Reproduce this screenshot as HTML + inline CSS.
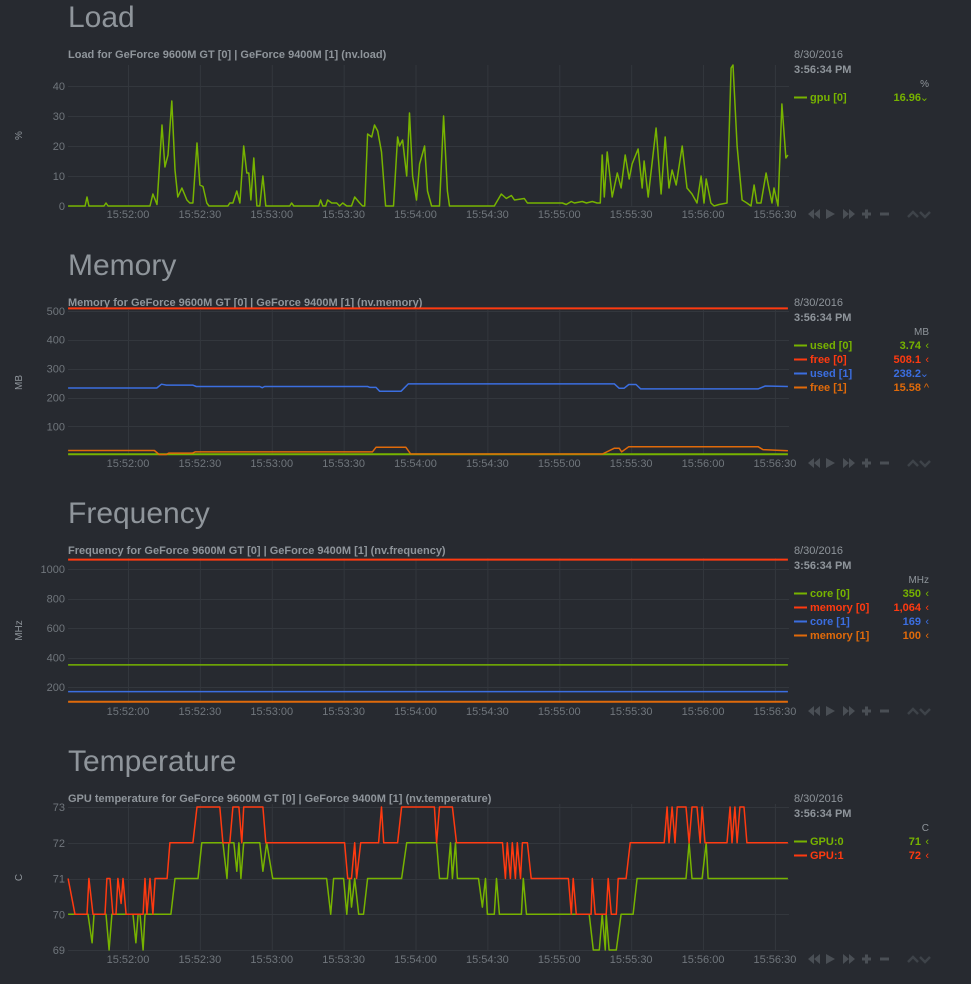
<!DOCTYPE html>
<html><head><meta charset="utf-8">
<style>
html,body{margin:0;padding:0;background:#272a30;}
body{width:971px;height:984px;overflow:hidden;font-family:"Liberation Sans",sans-serif;}
svg{display:block}
</style></head>
<body>
<svg id="page" width="971" height="984" xmlns="http://www.w3.org/2000/svg" font-family="Liberation Sans, sans-serif"></svg>
<script>
// ---- data (times are seconds relative to 15:52:00) ----
const xTickLabels = ["15:52:00","15:52:30","15:53:00","15:53:30","15:54:00","15:54:30","15:55:00","15:55:30","15:56:00","15:56:30"];
const xTickTimes = [0,30,60,90,120,150,180,210,240,270];

const loadTimes = [-25,-17.9,-17.1,-16.3,-10,-9.2,-8.3,9.2,10.4,12.1,14.2,15.4,16.7,18.3,19.6,20.8,22.5,24.6,25.8,27.1,28.8,30,31.3,32.9,33.8,41.7,42.5,43.8,45.4,46.7,48.3,49.6,50.4,51.3,52.5,53.8,55,56.3,57.5,67.5,68.3,69.2,79.6,80.4,81.3,82.5,83.3,85,87.1,88.3,89.6,91.3,93.3,94.6,96.7,97.9,98.8,100,101.7,102.9,104.2,105.8,107.5,110.8,112.5,113.3,114.6,116.3,117.5,118.8,120.4,121.7,123.8,125,126.7,130,131.7,133.3,134.2,152.9,155.8,157.9,160,161.3,165.4,166.7,181.3,182.9,185,186.3,189.6,191.3,193.8,195.8,197.1,197.9,198.8,200,202.1,204.2,205.8,207.5,209.2,210.4,212.9,214.6,215.4,217.1,220.4,222.5,224.2,225.8,227.1,228.8,231.3,233.3,235.4,237.5,239.2,240.4,241.3,243.3,244.6,246.7,250,251.7,252.5,254.2,256.3,258.3,260,261.3,262.5,264.2,266.3,267.5,268.8,269.6,271.3,272.9,274.6,275.4];
const loadGpu0 = [0,0,3,0,0,1,0,0,4,0.5,27,13,17,35,12,3,6,2,1,1,21,7,6.5,1,0,0,1,1,5,1,20,11,11,2,16,0,0,10,0,0,1,0,0,2,0,0,2,1,1,0,1,0,0,3,1,0,0,24,23,27,25,18,0,0,23,20,22,10,31,10,2,14,20,5,0,0,30,5,0,0,4,2.5,3.5,2,2.5,1,1,0.5,1.5,1,1.5,1,1.5,1,1,17,3,18,3,11,6,17,9,14,19,6,15,3,26,4,23,6,12,7,20,6,4,1,10,1,9,1,0,0.5,1,46,47,20,2,1,0,7,1,1,11,6,1,6,0,34,16,17];

const memUsed0Times = [-25,275.4];
const memUsed0 = [3.74,3.74];
const memFree0Times = [-25,275.4];
const memFree0 = [508.1,508.1];
const memUsed1Times = [-25,12,14,16,27,28.5,55,56,57,100,101,103.5,105,114,117,203,205,207,209,212,214,263,266,275.4];
const memUsed1 = [233,233,246,243,243,238,238,234,238,238,235,235,222,222,247,247,232,232,245,245,230,230,240,238];
const memFree1Times = [-25,11,13,16,17,27,28,102,103.5,116,118,198,203,205,206,209,263,265,275.4];
const memFree1 = [17,17,3,3,8,8,12,12,28,28,5,5,25,25,12,30,30,20,16];

const freqTimes = [-25,275.4];
const freqCore0 = [350,350];
const freqMem0 = [1064,1064];
const freqCore1 = [169,169];
const freqMem1 = [100,100];

const tempRedTimes = [-25,-22.1,-17.1,-16.3,-14.6,-9.6,-8.8,-7.5,-6.3,-5,-4.2,-2.9,-2.1,-0.8,6.3,7.1,7.9,9.2,10.4,11.3,16.3,17.5,27.1,28.8,38.3,39.6,42.5,43.8,46.3,47.5,48.3,56.3,57.5,90.4,91.7,93.3,94.6,95.4,97.1,104.6,105.8,106.7,112.5,114.2,127.9,128.8,130,135.4,137.1,156.3,157.5,158.3,159.6,160.4,161.7,162.5,163.8,164.6,166.7,168.3,183.8,185,185.8,187.1,193.3,193.8,195,199.6,200.4,201.7,203.8,204.6,207.9,209.6,223.8,225,225.8,227.1,228.3,229.2,232.9,234.2,235.4,237.5,238.8,239.6,240.8,250,251.3,252.1,253.3,254.2,255.4,257.1,258.3,275.4];
const tempGpu1 = [71,70,70,71,70,70,71,71,70,70,71,70.3,71,70,70,71,70,71,70,71,71,72,72,73,73,72,72,73,73,72,73,73,72,72,71,71,72,71,72,72,73,72,72,73,73,72,73,73,72,72,71,72,71,72,71,72,71,72,72,71,71,70,71,70,70,71,70,70,71,70,70,71,71,72,72,73,72,73,72,73,73,72,73,73,72,73,72,72,73,72,73,72,73,73,72,72];
const tempGreenTimes = [-25,-16.7,-15,-14.2,-9.2,-7.9,-6.7,2.1,3.3,4.2,5,6.3,7.1,17.9,19.6,29.2,30.8,39.6,41.3,42.1,44.2,45.4,46.3,47.1,48.3,55,56.3,57.9,60.4,82.9,84.6,85.8,90,91.3,92.5,93.3,94.6,96.3,98.3,100,114.2,116.3,128.8,130,133.3,134.6,135.4,136.7,137.5,146.3,147.9,149.2,150,152.9,153.8,155,164.2,165,166.3,192.5,194.2,196.7,197.9,199.2,199.6,200.8,203.8,205.8,210.8,212.5,232.9,234.2,235.4,239.6,241.3,242.1,275.4];
const tempGpu0 = [70,70,69.2,70,70,69,70,70,69.2,70,70,69,70,70,71,71,72,72,71,72,72,71.2,72,71,72,72,71.2,72,71,71,70,71,71,70,71,70.2,71,70,70,71,71,72,72,71,71,72,71,72,71,71,70.2,71,70,70,71,70,70,71,70,70,69,69,70,69,70,69,69,70,70,71,71,72,71,71,72,71,71];

// ---- rendering ----
const NS = "http://www.w3.org/2000/svg";
const svg = document.getElementById("page");
const X0 = 128, PXS = 2.396, PL = 68, PR = 789;
function xOf(t){ return X0 + t*PXS; }
function mk(tag, attrs, parent){
  const e = document.createElementNS(NS, tag);
  for (const k in attrs) e.setAttribute(k, attrs[k]);
  (parent||svg).appendChild(e);
  return e;
}
function txt(s, attrs, parent){ const e = mk("text", attrs, parent); e.textContent = s; return e; }

const C = {green:"#77b300", red:"#ff3a10", blue:"#3b6ee0", orange:"#e06a0a"};

function chart(cfg){
  const g = mk("g", {});
  
  
  const oy = cfg.oy;
  const h = txt(cfg.heading, {x:68, y:oy+27, "font-size":30, fill:"#8f959b"}, g);
  
  
  const t = txt(cfg.title, {x:68, y:oy+58, "font-size":11, "font-weight":"bold", fill:"#8f959b"}, g);
  
  
  const yOf = v => cfg.yBase - (v - cfg.vBase) * cfg.k;
  const grid = mk("g", {stroke:"#33373d", "stroke-width":1}, g);
  
  
  xTickTimes.forEach(tt => mk("line", {x1:xOf(tt)+0.5, x2:xOf(tt)+0.5, y1:cfg.top, y2:cfg.bottom}, grid));
  cfg.yTicks.forEach(v => mk("line", {x1:PL, x2:PR, y1:Math.round(yOf(v))+0.5, y2:Math.round(yOf(v))+0.5}, grid));
  cfg.yTicks.forEach(v => {
    const e = txt(String(v), {x:65, y:yOf(v)+4, "font-size":11, fill:"#70767c", "text-anchor":"end"}, g);
    
    
  });
  const ux = 22, uy = (cfg.top + cfg.bottom)/2;
  const u = txt(cfg.unit, {x:ux, y:uy, "font-size":10, fill:"#8f959b", "text-anchor":"middle", transform:`rotate(-90 ${ux} ${uy})`}, g);
  
  
  xTickTimes.forEach((tt,i) => {
    const e = txt(xTickLabels[i], {x:xOf(tt), y:cfg.bottom+12, "font-size":11, fill:"#70767c", "text-anchor":"middle"}, g);
    
    
  });
  cfg.series.forEach(s => {
    const d = s.times.map((tt,i) => (i ? "L" : "M") + Math.min(PR, Math.max(PL, xOf(tt))).toFixed(1) + "," + yOf(s.vals[i]).toFixed(1)).join("");
    const p = mk("path", {d, fill:"none", stroke:s.color, "stroke-width":s.w||1.5, "stroke-linejoin":"round"}, g);
    
    
  });
  const lg = mk("g", {}, g);
  
  
  txt("8/30/2016", {x:794, y:oy+58, "font-size":11, fill:"#8f959b"}, lg);
  txt("3:56:34 PM", {x:794, y:oy+73, "font-size":11, "font-weight":"bold", fill:"#8f959b"}, lg);
  txt(cfg.unit, {x:929, y:oy+87, "font-size":10, fill:"#8f959b", "text-anchor":"end"}, lg);
  cfg.series.forEach((s,i) => {
    const y = oy + 101 + i*14;
    const row = mk("g", {}, lg);
    
    
    mk("line", {x1:794, x2:807, y1:y-3.5, y2:y-3.5, stroke:s.color, "stroke-width":2}, row);
    txt(s.label, {x:810, y:y, "font-size":11, "font-weight":"bold", fill:s.color}, row);
    txt(s.value, {x:921, y:y, "font-size":11, "font-weight":"bold", fill:s.color, "text-anchor":"end"}, row);
    txt(s.arrow, {x:929, y:y, "font-size":11, fill:s.color, "text-anchor":"end"}, row);
  });
  // controls
  const cy = cfg.bottom + 8;
  const cg = mk("g", {fill:"#4a4f55"}, g);
  
  
  const b1 = mk("path", {d:`M808 ${cy}l6 -5v10z M814 ${cy}l6 -5v10z`}, cg);
  
  
  const b2 = mk("path", {d:`M826 ${cy-5}l9 5l-9 5z`}, cg);
  
  
  const b3 = mk("path", {d:`M843 ${cy-5}l6 5l-6 5z M849 ${cy-5}l6 5l-6 5z`}, cg);
  
  
  const b4 = mk("path", {d:`M862 ${cy-1.5}h9v3h-9z M865 ${cy-4.5}h3v9h-3z`}, cg);
  
  
  const b5 = mk("path", {d:`M880 ${cy-1.5}h9v3h-9z`}, cg);
  
  
  const rs = mk("path", {d:`M908 ${cy+3}l5 -5l5 5 M920 ${cy-2}l5 5l5 -5`, fill:"none", stroke:"#3e4349", "stroke-width":2.5}, g);
  
  
}

chart({name:"load", oy:0, heading:"Load", title:"Load for GeForce 9600M GT [0] | GeForce 9400M [1] (nv.load)", unit:"%",
  top:65, bottom:206, yBase:206, vBase:0, k:3.0, yTicks:[0,10,20,30,40],
  series:[{name:"gpu0", times:loadTimes, vals:loadGpu0, color:C.green, label:"gpu [0]", value:"16.96", arrow:"⌄"}]});

chart({name:"memory", oy:248, heading:"Memory", title:"Memory for GeForce 9600M GT [0] | GeForce 9400M [1] (nv.memory)", unit:"MB",
  top:310, bottom:455, yBase:455.4, vBase:0, k:0.2893, yTicks:[100,200,300,400,500],
  series:[
    {name:"used0", times:memUsed0Times, vals:memUsed0, color:C.green, label:"used [0]", value:"3.74", arrow:"‹", w:2},
    {name:"free0", times:memFree0Times, vals:memFree0, color:C.red, label:"free [0]", value:"508.1", arrow:"‹", w:2},
    {name:"used1", times:memUsed1Times, vals:memUsed1, color:C.blue, label:"used [1]", value:"238.2", arrow:"⌄"},
    {name:"free1", times:memFree1Times, vals:memFree1, color:C.orange, label:"free [1]", value:"15.58", arrow:"^"}]});

chart({name:"frequency", oy:496, heading:"Frequency", title:"Frequency for GeForce 9600M GT [0] | GeForce 9400M [1] (nv.frequency)", unit:"MHz",
  top:558, bottom:703, yBase:716.5, vBase:0, k:0.1475, yTicks:[200,400,600,800,1000],
  series:[
    {name:"core0", times:freqTimes, vals:freqCore0, color:C.green, label:"core [0]", value:"350", arrow:"‹"},
    {name:"memory0", times:freqTimes, vals:freqMem0, color:C.red, label:"memory [0]", value:"1,064", arrow:"‹", w:2},
    {name:"core1", times:freqTimes, vals:freqCore1, color:C.blue, label:"core [1]", value:"169", arrow:"‹"},
    {name:"memory1", times:freqTimes, vals:freqMem1, color:C.orange, label:"memory [1]", value:"100", arrow:"‹", w:2}]});

chart({name:"temperature", oy:744, heading:"Temperature", title:"GPU temperature for GeForce 9600M GT [0] | GeForce 9400M [1] (nv.temperature)", unit:"C",
  top:804, bottom:951, yBase:950, vBase:69, k:35.75, yTicks:[69,70,71,72,73],
  series:[
    {name:"gpu0-temp", times:tempGreenTimes, vals:tempGpu0, color:C.green, label:"GPU:0", value:"71", arrow:"‹"},
    {name:"gpu1-temp", times:tempRedTimes, vals:tempGpu1, color:C.red, label:"GPU:1", value:"72", arrow:"‹"}]});
</script>
</body></html>
